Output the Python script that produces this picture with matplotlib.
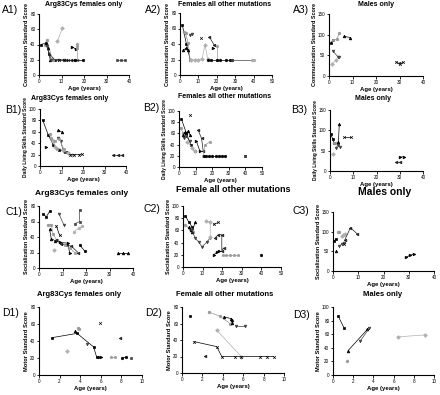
import matplotlib
matplotlib.use("Agg")
from matplotlib import pyplot as plt

W, H = 440, 395

# ---- data: one sub-list per participant (age in years, standard score) ----
a1_age = [[1.0, 3.0, 4.5, 7.0], [2.5, 3.5, 6.0], [3.0, 4.0, 5.0], [3.5, 5.5, 8.5, 11.0], [8.2, 10.3],
          [9.0, 11.0, 13.0, 15.0], [12.0, 14.0, 17.0], [14.5, 16.5], [17.0, 17.0, 17.0, 17.0],
          [16.0, 19.5], [34.5, 36.5, 38.0]]
a1_score = [[40, 42, 28, 20], [40, 46, 20], [42, 35, 20], [38, 20, 20, 20], [44, 61],
            [20, 20, 20, 20], [20, 20, 20], [37, 34], [20, 35, 38, 41],
            [20, 20], [20, 20, 20]]

a2_age = [[1.3, 3.5, 5.5], [2.4, 3.0, 4.5, 5.5], [1.8, 3.5, 4.5], [5.5, 6.4],
          [6.0, 8.0, 10.0, 12.0, 13.6, 15.0], [11.5], [16.0, 18.5], [18.2], [20.0, 20.0],
          [15.0, 17.0, 20.0, 22.0, 25.0, 27.0, 28.0], [28.0, 39.5], [39.0, 40.0]]
a2_score = [[64, 40, 20], [55, 54, 41, 20], [32, 35, 32], [51, 53],
            [20, 20, 20, 21, 39, 21], [48], [49, 39], [35], [37, 20],
            [20, 20, 20, 20, 20, 20, 20], [20, 20], [20, 20]]

a3_age = [[0.7, 1.8], [1.8, 3.3, 4.4], [6.5, 9.0], [1.6, 3.7, 4.4], [1.4, 2.8],
          [28.6, 30.3, 31.4], [29.6]]
a3_score = [[79, 88], [88, 89, 103], [96, 93], [61, 47, 47], [28, 38],
            [34, 28, 33], [31]]

b1_age = [[1.2, 3.9, 6.2, 9.0, 12.0], [4.5, 6.0, 8.0], [8.5, 10.0], [8.5, 9.6, 11.0, 13.0],
          [5.9, 7.0, 10.9, 13.2, 15.0], [14.0, 16.0, 18.0, 19.4], [34.0, 36.4, 38.0], [2.8],
          [5.0, 7.0, 9.0, 11.0]]
b1_score = [[81, 54, 37, 28, 25], [57, 43, 30], [63, 60], [49, 43, 25, 22],
            [43, 34, 28, 22, 20], [20, 20, 20, 21], [20, 20, 20], [34],
            [50, 44, 48, 30]]

b2_age = [[1.4, 4.5, 7.0, 9.5], [1.0, 2.5], [2.5, 3.5, 4.5, 5.5, 6.5], [3.0, 4.5, 6.5],
          [5.0, 8.0, 9.5], [6.5], [11.5, 13.6, 14.6], [10.5, 12.5], [14.6, 15.6, 18.6],
          [15.0, 16.0, 18.0, 20.0, 22.0, 24.0, 26.0, 28.0], [39.5, 40.0]]
b2_score = [[86, 60, 40, 28], [70, 60], [57, 62, 60, 64, 58], [52, 55, 46],
            [45, 34, 28], [92], [66, 51, 28], [46, 29], [20, 39, 45],
            [20, 20, 20, 20, 20, 20, 20, 20], [20, 20]]

b3_age = [[0.3, 1.2, 1.7], [1.7, 3.0], [3.6, 4.0], [2.6, 3.6, 4.3], [1.2], [6.0, 8.9],
          [28.5, 30.2], [30.0, 31.7]]
b3_score = [[90, 79, 70], [70, 68], [72, 115], [57, 65, 60], [41], [84, 84],
            [21, 21], [34, 35]]

c1_age = [[1.7, 3.1, 4.5], [3.8, 5.2, 6.0, 7.5], [4.5, 5.2, 7.0], [8.5, 10.5], [6.4],
          [7.4, 8.8], [7.4, 9.5, 11.6, 13.8, 16.6], [9.0, 12.3, 13.0], [11.0, 13.0, 15.2],
          [17.3, 19.4], [15.2, 17.3, 17.3], [14.8, 16.9, 18.4], [33.6, 35.7, 37.9]]
c1_score = [[70, 66, 73], [56, 56, 44, 36], [50, 38, 35], [70, 56], [23],
            [54, 42], [36, 31, 30, 28, 20], [33, 32, 20], [30, 26, 20],
            [30, 22], [57, 60, 75], [47, 51, 54], [20, 20, 20]]

c2_age = [[1.2, 2.9, 4.6], [1.2, 3.5, 5.0], [3.0, 4.0, 4.6, 6.3],
          [4.5, 6.3, 8.0, 9.7, 12.2, 13.9], [11.7, 13.9, 13.9], [15.6, 18.1],
          [16.4, 18.1, 19.8, 19.8, 20.7], [15.6, 17.3, 18.5], [20.5, 22.0, 24.0, 26.0, 28.0],
          [39.8]]
c2_score = [[84, 74, 66], [69, 62, 58], [65, 60, 58, 74],
            [60, 47, 41, 33, 41, 48], [75, 73, 49], [70, 73],
            [48, 53, 53, 27, 31], [20, 24, 27], [20, 20, 20, 20, 20],
            [20]]

c3_age = [[0.5, 1.2], [1.8, 2.5], [1.3], [2.5, 3.4, 4.2], [3.5, 4.0, 4.6], [4.5],
          [4.6, 6.9, 9.5], [29.0, 30.5, 32.0]]
c3_score = [[76, 82], [100, 99], [50], [63, 68, 72], [88, 92, 95], [68],
            [78, 110, 95], [35, 40, 43]]

d1_age = [[1.3, 3.7, 5.3, 5.6], [3.8, 3.9], [3.5], [4.7], [2.7], [5.9], [7.9],
          [5.8, 6.0], [7.0, 7.4], [8.1, 8.4], [8.9]]
d1_score = [[44, 49, 33, 21], [55, 54], [52], [37], [28], [61], [43],
            [21, 21], [21, 21], [20, 21], [20]]

d2_age = [[0.75], [2.6, 3.7, 4.7], [4.1, 4.8, 4.9, 4.9], [5.3, 6.2], [3.4, 5.8],
          [1.2, 3.4, 3.9, 5.2, 5.8, 7.6, 8.3, 9.0], [2.3]]
d2_score = [[69], [74, 69, 60], [68, 66, 64, 61], [57, 57], [52, 20],
            [38, 32, 20, 20, 20, 20, 20, 20], [21]]

d3_age = [[0.5, 1.1], [1.4], [1.5, 3.4], [2.7, 3.6], [6.4, 9.1]]
d3_score = [[87, 69], [20], [36, 67], [50, 69], [56, 59]]

ylabels = ["Communication Standard Score", "Daily Living Skills Standard Score",
           "Socialization Standard Score", "Motor Standard Score"]
titles = [["Arg83Cys females only", "Females all other mutations", "Males only"],
          ["Arg83Cys females only", "Females all other mutations", "Males only"],
          ["Arg83Cys females only", "Female all other mutations", "Males only"],
          ["Arg83Cys females only", "Female all other mutations", "Males only"]]
panel_tags = [["A1)", "A2)", "A3)"], ["B1)", "B2)", "B3)"],
              ["C1)", "C2)", "C3)"], ["D1)", "D2)", "D3)"]]

ages = [[a1_age, a2_age, a3_age], [b1_age, b2_age, b3_age],
        [c1_age, c2_age, c3_age], [d1_age, d2_age, d3_age]]
scores = [[a1_score, a2_score, a3_score], [b1_score, b2_score, b3_score],
          [c1_score, c2_score, c3_score], [d1_score, d2_score, d3_score]]

# ---- layout (pixels: left, top, right, bottom) ----
boxes = [[(39, 14, 129, 75), (180, 13, 272, 75), (329, 14, 423, 76)],
         [(40, 109, 126, 166), (179, 111, 262, 167), (330, 110, 423, 171)],
         [(39, 206, 133, 268), (183, 206, 281, 267), (333, 212, 434, 271)],
         [(39, 307, 142, 375), (182, 307, 284, 373), (333, 307, 434, 375)]]
xmax = [[40, 50, 40], [40, 50, 40], [40, 50, 40], [10, 10, 10]]
xstep = [[10, 10, 10], [10, 10, 10], [10, 10, 10], [2, 2, 2]]
ymax = [[80, 80, 150], [100, 100, 150], [80, 100, 150], [80, 80, 100]]
ystep = [[20, 20, 50], [20, 20, 50], [20, 20, 50], [20, 20, 20]]
ylab_size = [3.9, 3.5, 3.9, 4.1]
title_pos = [[(84, 4), (225, 4), (376, 4)],
             [(70, 98), (225, 97), (373, 98)],
             [(82, 194), (233, 189), (385, 192)],
             [(79, 294), (225, 295), (383, 294)]]
title_size = [[5, 5, 5], [5, 5, 5], [6, 6.5, 7.5], [5.5, 5.5, 5.5]]
tag_pos = [[(2, 10), (145, 10), (293, 10)],
           [(5, 110), (143, 108), (291, 110)],
           [(5, 212), (143, 209), (292, 211)],
           [(2, 313), (145, 313), (293, 315)]]

markers = ["s", "o", "^", "v", "D", "x", "<", ">", "p", "h"]
shades = ["#000000", "#9a9a9a", "#000000", "#444444", "#b0b0b0", "#000000", "#222222"]


def fig_xy(x, y):
    return x / W, 1 - y / H


fig = plt.figure(figsize=(W / 100, H / 100), dpi=100)
plt.rcParams['font.family'] = ['Liberation Sans', 'DejaVu Sans']

for r in range(4):
    for c in range(3):
        l, t, rr, b = boxes[r][c]
        ax = fig.add_axes([l / W, 1 - b / H, (rr - l) / W, (b - t) / H])
        k = 0
        for xs, ys in zip(ages[r][c], scores[r][c]):
            col = shades[k % len(shades)]
            ax.plot(xs, ys, "-", color=col, lw=0.5, marker=markers[k % len(markers)],
                    ms=1.9, mew=0.5, clip_on=False)
            k += 1
        ax.set_xlim(0, xmax[r][c])
        ax.set_ylim(0, ymax[r][c])
        ax.set_xticks(range(0, xmax[r][c] + 1, xstep[r][c]))
        ax.set_yticks(range(0, ymax[r][c] + 1, ystep[r][c]))
        ax.spines["top"].set_visible(False)
        ax.spines["right"].set_visible(False)
        for s in ("left", "bottom"):
            ax.spines[s].set_linewidth(0.8)
        ax.tick_params(labelsize=3.3, width=0.6, length=1.8, pad=0.8)
        ax.set_xlabel("Age (years)", fontsize=4.3, fontweight="bold", labelpad=1.5)
        ax.set_ylabel(ylabels[r], fontsize=ylab_size[r], fontweight="bold", labelpad=0.8)

        tx, ty = fig_xy(*title_pos[r][c])
        fig.text(tx, ty, titles[r][c], ha="center", va="center",
                 fontsize=title_size[r][c], fontweight="bold")
        px, py = fig_xy(*tag_pos[r][c])
        fig.text(px, py, panel_tags[r][c], ha="left", va="center", fontsize=7.5)

fig.savefig("out.png", dpi=100)
